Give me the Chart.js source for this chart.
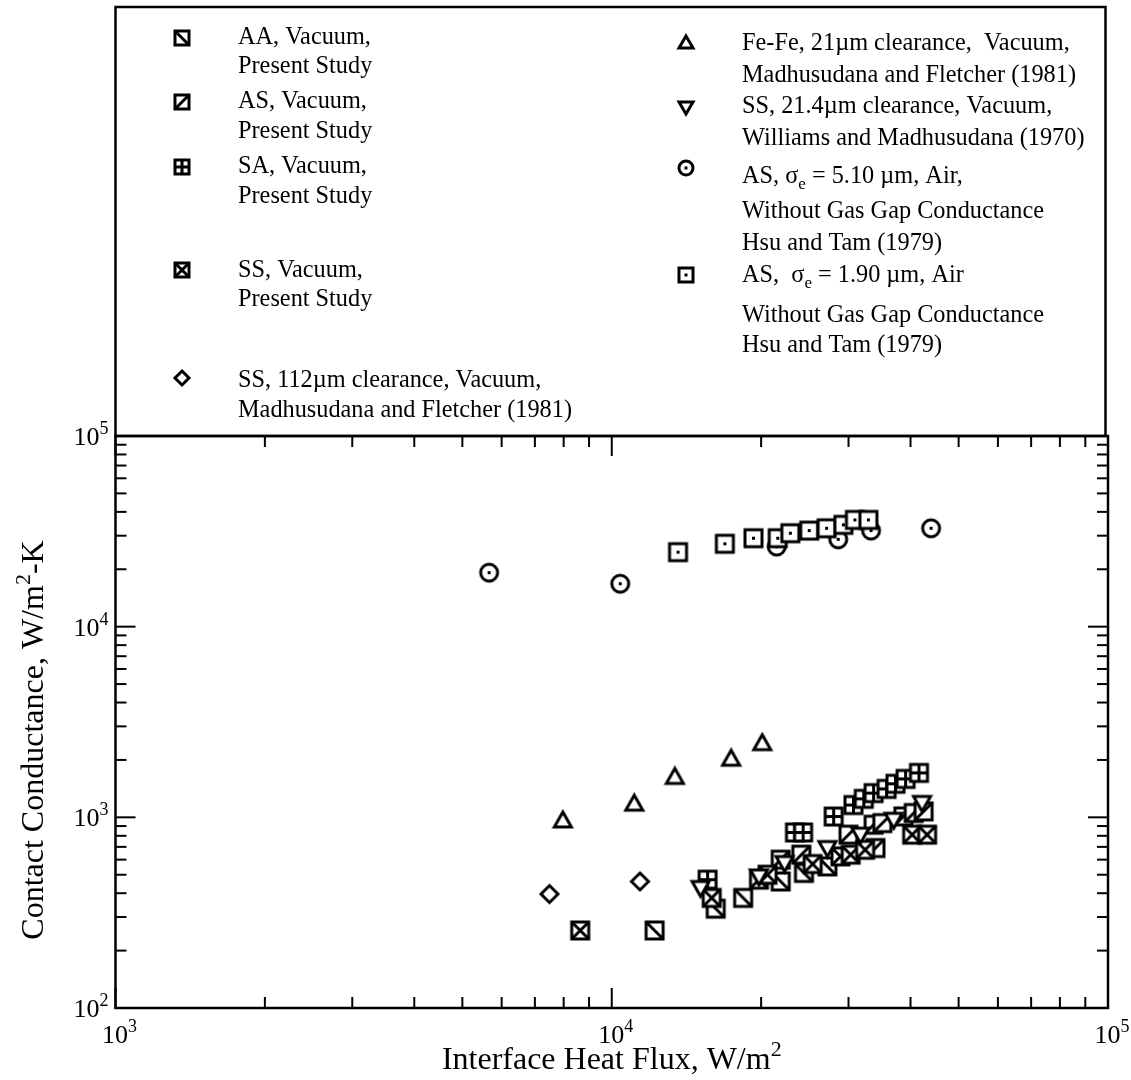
<!DOCTYPE html>
<html>
<head>
<meta charset="utf-8">
<script src="https://cdn.jsdelivr.net/npm/chart.js@4/dist/chart.umd.min.js"></script>
<style>
  html, body { margin: 0; padding: 0; background: #fff; }
  #wrap { position: relative; width: 1131px; height: 1080px; }
</style>
</head>
<body>
<div id="wrap"><canvas id="chart"></canvas></div>
<script>
// [heat flux W/m^2, contact conductance W/m^2-K]
const aaVacuum = [[12200, 255], [16200, 332], [18400, 378], [21900, 461], [24400, 511], [27200, 553]];
const asVacuum = [[21900, 600], [24100, 637], [30000, 811], [34000, 690], [33700, 915], [35100, 933], [38700, 1011], [40600, 1053], [42500, 1074]];
const saVacuum = [[15600, 471], [23400, 833], [24300, 833], [28000, 1010], [30700, 1160], [32200, 1250], [33700, 1340], [35800, 1410], [37300, 1500], [39100, 1590], [41600, 1710]];
const ssVacuum = [[8640, 255], [15900, 378], [19800, 471], [20600, 500], [25400, 569], [28900, 624], [30300, 637], [32400, 676], [40300, 811], [43200, 811]];
const ss112 = [[7490, 396], [11400, 461]];
const feFe21 = [[7970, 963], [11100, 1180], [13400, 1630], [17400, 2030], [20100, 2450]];
const ss214 = [[15100, 426], [19800, 490], [22300, 576], [27200, 690], [31700, 811], [37000, 971], [42200, 1190]];
const asAir510 = [[5660, 19200], [10400, 16800], [21500, 26300], [28600, 28700], [33300, 31900], [44000, 32800]];
const asAir190 = [[13600, 24600], [16900, 27200], [19300, 29100], [21600, 29100], [22900, 30900], [25000, 31900], [27100, 32800], [29300, 34200], [30900, 36300], [32900, 36300]];

const xDecades = [1e3, 1e4, 1e5];
const yDecades = [1e2, 1e3, 1e4, 1e5];

const FONT = '"Liberation Serif", "Times New Roman", serif';

// small canvases used as point styles
function marker(kind, size, lw) {
  const pad = Math.ceil(lw);
  const dim = size + pad * 2;
  const c = document.createElement('canvas');
  c.width = dim;
  c.height = dim;
  const g = c.getContext('2d');
  g.strokeStyle = '#000';
  g.fillStyle = '#fff';
  g.lineWidth = lw;
  g.lineJoin = 'miter';
  const a = pad;
  const b = pad + size;
  const m = dim / 2;
  const square = () => {
    g.fillRect(a, a, size, size);
    g.strokeRect(a, a, size, size);
  };
  const line = (x1, y1, x2, y2) => {
    g.beginPath();
    g.moveTo(x1, y1);
    g.lineTo(x2, y2);
    g.stroke();
  };
  switch (kind) {
    case 'aa':
      square();
      line(a, a, b, b);
      break;
    case 'as':
      square();
      line(a, b, b, a);
      break;
    case 'sa':
      square();
      line(m, a, m, b);
      line(a, m, b, m);
      break;
    case 'ss':
      square();
      line(a, a, b, b);
      line(a, b, b, a);
      break;
    case 'sqdot':
      square();
      g.fillStyle = '#000';
      g.fillRect(m - 1.5, m - 1.5, 3, 3);
      break;
    case 'circdot':
      g.beginPath();
      g.arc(m, m, size / 2, 0, Math.PI * 2);
      g.fill();
      g.stroke();
      g.fillStyle = '#000';
      g.fillRect(m - 1.5, m - 1.5, 3, 3);
      break;
    case 'tri':
      g.beginPath();
      g.moveTo(m, a);
      g.lineTo(b, b - 2);
      g.lineTo(a, b - 2);
      g.closePath();
      g.fill();
      g.stroke();
      break;
    case 'tridown':
      g.beginPath();
      g.moveTo(a, a + 2);
      g.lineTo(b, a + 2);
      g.lineTo(m, b);
      g.closePath();
      g.fill();
      g.stroke();
      break;
    case 'diamond':
      g.beginPath();
      g.moveTo(m, a);
      g.lineTo(b, m);
      g.lineTo(m, b);
      g.lineTo(a, m);
      g.closePath();
      g.fill();
      g.stroke();
      break;
    default:
      break;
  }
  return c;
}

const kinds = ['aa', 'as', 'sa', 'ss', 'diamond', 'tri', 'tridown', 'circdot', 'sqdot'];
const plotMarks = {};
const keyMarks = {};
kinds.forEach((k) => {
  plotMarks[k] = marker(k, 17, 3);
  keyMarks[k] = marker(k, 14, 3);
});

const toXY = (arr) => arr.map(([x, y]) => ({ x, y }));

function series(label, data, kind, order) {
  return {
    label,
    data: toXY(data),
    pointStyle: plotMarks[kind],
    pointRadius: 9,
    showLine: false,
    order,
  };
}

// text with optional raised / lowered small parts: [[text, shift], ...]
function richText(ctx, parts, x, y, size) {
  let cx = x;
  parts.forEach(([txt, shift]) => {
    const small = shift !== 0;
    ctx.font = `${small ? Math.round(size * 0.68) : size}px ${FONT}`;
    ctx.fillText(txt, cx, y + shift);
    cx += ctx.measureText(txt).width;
  });
  return cx - x;
}

function richWidth(ctx, parts, size) {
  let w = 0;
  parts.forEach(([txt, shift]) => {
    ctx.font = `${shift !== 0 ? Math.round(size * 0.68) : size}px ${FONT}`;
    w += ctx.measureText(txt).width;
  });
  return w;
}

const keyLeft = [
  { mark: 'aa', my: 38, lines: [[44, [['AA, Vacuum,', 0]]], [73, [['Present Study', 0]]]] },
  { mark: 'as', my: 102, lines: [[108, [['AS, Vacuum,', 0]]], [138, [['Present Study', 0]]]] },
  { mark: 'sa', my: 167, lines: [[173, [['SA, Vacuum,', 0]]], [203, [['Present Study', 0]]]] },
  { mark: 'ss', my: 270, lines: [[277, [['SS, Vacuum,', 0]]], [306, [['Present Study', 0]]]] },
  { mark: 'diamond', my: 378, lines: [[387, [['SS, 112\u00b5m clearance, Vacuum,', 0]]], [417, [['Madhusudana and Fletcher (1981)', 0]]]] },
];
const keyRight = [
  { mark: 'tri', my: 43, lines: [[50, [['Fe-Fe, 21\u00b5m clearance,  Vacuum,', 0]]], [82, [['Madhusudana and Fletcher (1981)', 0]]]] },
  { mark: 'tridown', my: 107, lines: [[113, [['SS, 21.4\u00b5m clearance, Vacuum,', 0]]], [145, [['Williams and Madhusudana (1970)', 0]]]] },
  {
    mark: 'circdot',
    my: 168,
    lines: [
      [183, [['AS, \u03c3', 0], ['e', 6], [' = 5.10 \u00b5m, Air,', 0]]],
      [218, [['Without Gas Gap Conductance', 0]]],
      [250, [['Hsu and Tam (1979)', 0]]],
    ],
  },
  {
    mark: 'sqdot',
    my: 275,
    lines: [
      [282, [['AS,  \u03c3', 0], ['e', 6], [' = 1.90 \u00b5m, Air', 0]]],
      [322, [['Without Gas Gap Conductance', 0]]],
      [352, [['Hsu and Tam (1979)', 0]]],
    ],
  },
];

const frame = {
  id: 'frame',
  afterDraw(chart) {
    const { ctx, chartArea: area, scales } = chart;
    const { x: xs, y: ys } = scales;
    ctx.save();
    ctx.strokeStyle = '#000';
    ctx.fillStyle = '#000';
    ctx.lineWidth = 2.5;

    // key box
    ctx.strokeRect(115.5, 7, 990, area.top - 7);
    ctx.textAlign = 'left';
    ctx.textBaseline = 'alphabetic';
    const drawKey = (entries, mx, tx) => {
      entries.forEach((e) => {
        const img = keyMarks[e.mark];
        ctx.drawImage(img, Math.round(mx - img.width / 2), Math.round(e.my - img.height / 2));
        e.lines.forEach(([ly, parts]) => richText(ctx, parts, tx, ly, 24.3));
      });
    };
    drawKey(keyLeft, 182, 238);
    drawKey(keyRight, 686, 742);

    // plot frame
    ctx.lineWidth = 2.5;
    ctx.strokeRect(area.left, area.top, area.right - area.left, area.bottom - area.top);

    // inward ticks on all four sides
    ctx.lineWidth = 2;
    const tick = (x1, y1, x2, y2) => {
      ctx.beginPath();
      ctx.moveTo(x1, y1);
      ctx.lineTo(x2, y2);
      ctx.stroke();
    };
    for (let d = 1e3; d < 1e5; d *= 10) {
      for (let k = 1; k < 10; k += 1) {
        const px = xs.getPixelForValue(d * k);
        const len = k === 1 ? 20 : 11;
        tick(px, area.bottom, px, area.bottom - len);
        tick(px, area.top, px, area.top + len);
      }
    }
    for (let d = 1e2; d < 1e5; d *= 10) {
      for (let k = 1; k < 10; k += 1) {
        const py = ys.getPixelForValue(d * k);
        const len = k === 1 ? 20 : 11;
        tick(area.left, py, area.left + len, py);
        tick(area.right, py, area.right - len, py);
      }
    }

    // decade labels
    const tickSize = 26;
    xDecades.forEach((v) => {
      const parts = [['10', 0], [String(Math.round(Math.log10(v))), -11]];
      const w = richWidth(ctx, parts, tickSize);
      richText(ctx, parts, xs.getPixelForValue(v) - w / 2 + 4, area.bottom + 35, tickSize);
    });
    yDecades.forEach((v) => {
      const parts = [['10', 0], [String(Math.round(Math.log10(v))), -11]];
      const w = richWidth(ctx, parts, tickSize);
      richText(ctx, parts, area.left - 7 - w, ys.getPixelForValue(v) + 9, tickSize);
    });

    // axis titles
    const titleSize = 32;
    const xt = [['Interface Heat Flux, W/m', 0], ['2', -13]];
    const xw = richWidth(ctx, xt, titleSize);
    richText(ctx, xt, (area.left + area.right) / 2 - xw / 2, 1069, titleSize);

    const yt = [['Contact Conductance, W/m', 0], ['2', -13], ['-K', 0]];
    const yw = richWidth(ctx, yt, titleSize);
    ctx.translate(43, (area.top + area.bottom) / 2 + 18);
    ctx.rotate(-Math.PI / 2);
    richText(ctx, yt, -yw / 2, 0, titleSize);
    ctx.restore();
  },
};

new Chart(document.getElementById('chart'), {
  type: 'scatter',
  data: {
    datasets: [
      series('AS, \u03c3e = 1.90 \u00b5m, Air', asAir190, 'sqdot', 1),
      series('AS, \u03c3e = 5.10 \u00b5m, Air', asAir510, 'circdot', 2),
      series('Fe-Fe, 21\u00b5m clearance, Vacuum', feFe21, 'tri', 3),
      series('SS, 112\u00b5m clearance, Vacuum', ss112, 'diamond', 4),
      series('SS, 21.4\u00b5m clearance, Vacuum', ss214, 'tridown', 5),
      series('SA, Vacuum, Present Study', saVacuum, 'sa', 6),
      series('SS, Vacuum, Present Study', ssVacuum, 'ss', 7),
      series('AS, Vacuum, Present Study', asVacuum, 'as', 8),
      series('AA, Vacuum, Present Study', aaVacuum, 'aa', 9),
    ],
  },
  options: {
    responsive: true,
    maintainAspectRatio: false,
    animation: false,
    layout: {
      padding: { top: 436, left: 115.5, right: 23, bottom: 72 },
    },
    scales: {
      x: { type: 'logarithmic', min: 1e3, max: 1e5, display: false },
      y: { type: 'logarithmic', min: 1e2, max: 1e5, display: false },
    },
    plugins: {
      legend: { display: false },
      tooltip: { enabled: false },
    },
  },
  plugins: [frame],
});
</script>
</body>
</html>
